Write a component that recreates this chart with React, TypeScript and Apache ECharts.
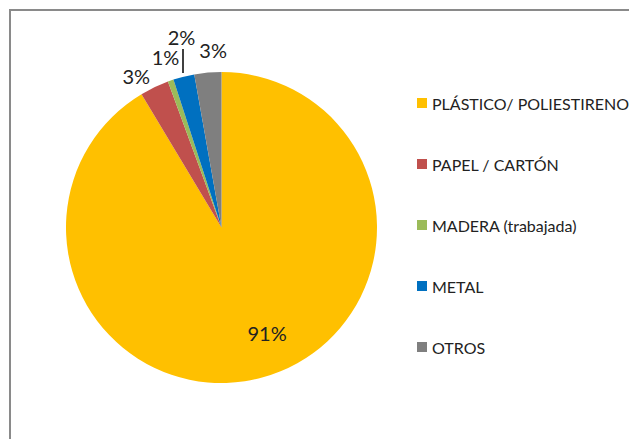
import React, { useEffect, useRef } from "react";
import * as echarts from "echarts";

const categories = ["PLÁSTICO/ POLIESTIRENO", "PAPEL / CARTÓN", "MADERA (trabajada)", "METAL", "OTROS"];
const values = [91.4, 3.0, 0.6, 2.2, 2.8];
const colors = ["#FFC000", "#C0504D", "#9BBB59", "#0070C0", "#7F7F7F"];
// label nudges relative to the library's default label placement
const labelDx = [24, 5, 17, 19, 25];
const labelDy = [28, -2, -14, -30, -13];

export default function App() {
  const ref = useRef<HTMLDivElement>(null);
  useEffect(() => {
    if (!ref.current) return;
    const chart = echarts.init(ref.current, null, { renderer: "svg" });
    const font = "Lato, sans-serif";
    chart.setOption({
      animation: false,
      backgroundColor: "#ffffff",
      graphic: [
        {
          type: "rect",
          shape: { x: 10, y: 10, width: 700, height: 600 },
          style: { fill: "none", stroke: "#8a8a8a", lineWidth: 2 },
          silent: true,
        },
      ],
      legend: {
        orient: "vertical",
        left: 412,
        top: 90,
        itemWidth: 10,
        itemHeight: 10,
        itemGap: 45,
        icon: "rect",
        textStyle: { fontFamily: font, fontSize: 16, color: "#222" },
        data: categories,
      },
      series: [
        {
          type: "pie",
          center: [221.5, 227.5],
          radius: [0, 155.5],
          startAngle: 90,
          clockwise: true,
          percentPrecision: 0,
          avoidLabelOverlap: false,
          label: {
            show: true,
            position: "outside",
            formatter: "{d}%",
            fontFamily: font,
            fontSize: 20,
            color: "#222",
          },
          labelLine: { show: false, length: 10, length2: 0, lineStyle: { color: "#000", width: 1.5 } },
          labelLayout: (p: any) => {
            const i = p.dataIndex;
            const out: any = { dx: labelDx[i], dy: labelDy[i] };
            if (i === 3) out.labelLinePoints = [[183, 73], [183, 49]];
            return out;
          },
          data: categories.map((name, i) => ({
            name,
            value: values[i],
            itemStyle: { color: colors[i] },
            label: i === 0 ? { position: "inside" } : undefined,
            labelLine: i === 3 ? { show: true } : undefined,
          })),
        },
      ],
    });
    return () => chart.dispose();
  }, []);
  return <div ref={ref} style={{ position: "absolute", left: 0, top: 0, width: 629, height: 439 }} />;
}
